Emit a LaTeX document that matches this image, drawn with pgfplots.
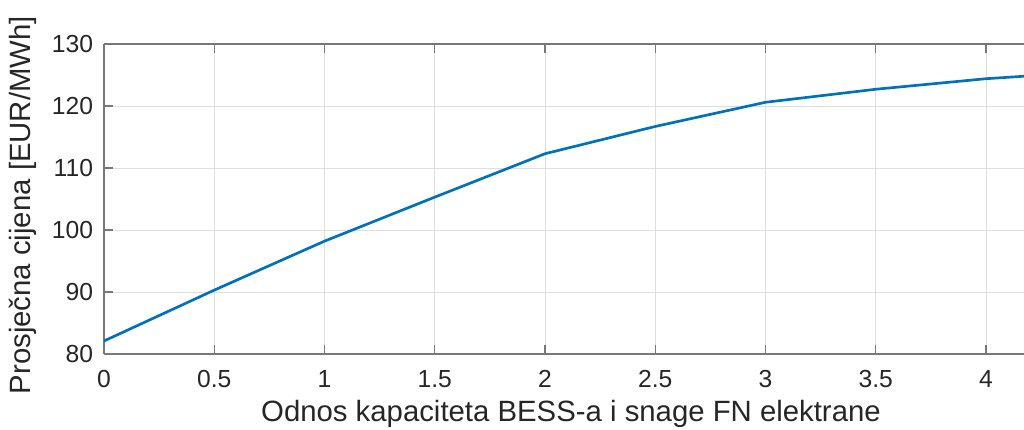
\documentclass[border=0pt]{standalone}
\usepackage{pgfplots}
\pgfplotsset{compat=1.18}
\usepackage{fontspec}
\setmainfont{Liberation Sans}
\definecolor{mlblue}{rgb}{0,0.447,0.741}
\definecolor{axgray}{RGB}{120,120,120}
\definecolor{txtgray}{RGB}{38,38,38}
\begin{document}
\begin{tikzpicture}
\begin{axis}[
  scale only axis, width=690pt, height=232.5pt,
  xmin=0, xmax=4.1723, ymin=80, ymax=130,
  axis x line=box, axis y line=left,
  axis line style={-, axgray, line width=0.8pt},
  xtick={0,0.5,...,4}, ytick={80,90,...,130},
  tick align=inside, major tick length=6.5pt,
  tick style={axgray, line width=0.8pt},
  grid=major, major grid style={black!13, line width=0.7pt},
  /pgf/number format/assume math mode=true,
  /pgf/number format/fixed,
  ticklabel style={font=\fontsize{18.5}{22}\selectfont, text=txtgray},
  xticklabel style={anchor=base, yshift=-25pt},
  yticklabel style={anchor=east, inner sep=0pt, xshift=-8pt},
  label style={font=\fontsize{22}{26}\selectfont, text=txtgray},
  xlabel={Odnos kapaciteta BESS-a i snage FN elektrane},
  xlabel style={at={([yshift=-45pt]axis description cs:0.5076,0)}, anchor=center},
  ylabel={Prosječna cijena [EUR/MWh]},
  ylabel style={at={([xshift=-61pt]axis description cs:0,0.48)}, anchor=center},
]
\addplot[mlblue, line width=2pt] coordinates {
  (0,82.1) (0.5,90.3) (1,98.2) (1.5,105.3) (2,112.3) (2.5,116.7)
  (3,120.6) (3.5,122.7) (4,124.4) (4.1723,124.8)
};
\end{axis}
\pgfresetboundingbox
\path[use as bounding box] ([xshift=-78pt,yshift=-57pt]current axis.south west) rectangle ([yshift=33pt]current axis.north east);
\end{tikzpicture}
\end{document}
